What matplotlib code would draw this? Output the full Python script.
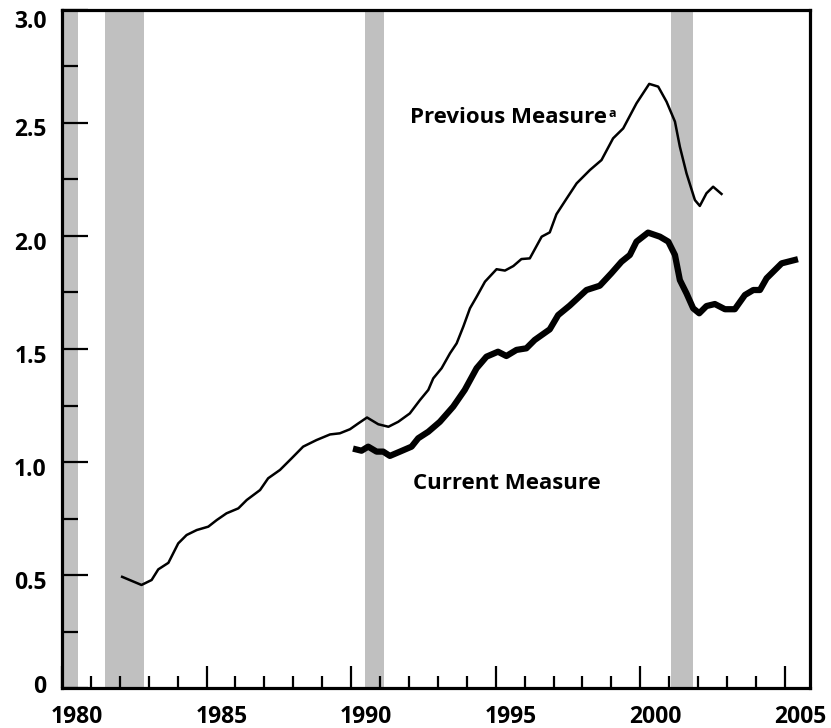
import matplotlib
matplotlib.use("Agg")
import matplotlib.pyplot as plt
from matplotlib.ticker import MultipleLocator, FixedLocator
from matplotlib.transforms import ScaledTranslation

# ── Data ──
prev_years = [1982.08, 1982.75, 1983.1, 1983.33, 1983.68, 1984.02, 1984.31, 1984.66,
              1985.06, 1985.35, 1985.69, 1986.1, 1986.39, 1986.85, 1987.13, 1987.54,
              1987.94, 1988.34, 1988.8, 1989.27, 1989.61, 1989.96, 1990.25, 1990.55,
              1990.94, 1991.29, 1991.63, 1992.03, 1992.38, 1992.67, 1992.84, 1993.13,
              1993.42, 1993.65, 1993.88, 1994.11, 1994.34, 1994.63, 1995.03, 1995.32,
              1995.61, 1995.89, 1996.18, 1996.59, 1996.87, 1997.1, 1997.45, 1997.8,
              1998.26, 1998.66, 1999.06, 1999.41, 1999.87, 2000.31, 2000.62, 2000.91,
              2001.2, 2001.37, 2001.6, 2001.89, 2002.06, 2002.29, 2002.52, 2002.81]
prev_vals = [0.492, 0.456, 0.478, 0.525, 0.554, 0.640, 0.677, 0.699,
             0.714, 0.743, 0.773, 0.795, 0.832, 0.876, 0.928, 0.965,
             1.016, 1.068, 1.097, 1.122, 1.127, 1.145, 1.171, 1.197,
             1.167, 1.156, 1.178, 1.215, 1.274, 1.319, 1.370, 1.415,
             1.481, 1.525, 1.599, 1.680, 1.731, 1.798, 1.853, 1.847,
             1.867, 1.898, 1.901, 1.997, 2.016, 2.096, 2.165, 2.233,
             2.292, 2.336, 2.432, 2.476, 2.587, 2.673, 2.661, 2.594,
             2.506, 2.395, 2.277, 2.159, 2.133, 2.189, 2.218, 2.186]

curr_years = [1990.17, 1990.36, 1990.59, 1990.88, 1991.11, 1991.34, 1991.69, 1992.09,
              1992.32, 1992.67, 1993.07, 1993.53, 1993.93, 1994.34, 1994.68, 1995.08,
              1995.37, 1995.72, 1996.06, 1996.35, 1996.87, 1997.16, 1997.56, 1998.14,
              1998.6, 1999.0, 1999.35, 1999.64, 1999.87, 2000.27, 2000.68, 2000.97,
              2001.2, 2001.37, 2001.6, 2001.83, 2002.04, 2002.29, 2002.58, 2002.93,
              2003.27, 2003.62, 2003.91, 2004.14, 2004.37, 2004.89, 2005.35]
curr_vals = [1.056, 1.050, 1.068, 1.046, 1.046, 1.027, 1.046, 1.068,
             1.105, 1.134, 1.178, 1.245, 1.319, 1.415, 1.466, 1.488,
             1.469, 1.496, 1.503, 1.540, 1.587, 1.650, 1.692, 1.761,
             1.780, 1.835, 1.886, 1.916, 1.975, 2.015, 1.997, 1.975,
             1.916, 1.805, 1.746, 1.680, 1.658, 1.690, 1.699, 1.676,
             1.676, 1.739, 1.761, 1.761, 1.813, 1.879, 1.894]

recessions = [(1980.0, 1980.55), (1981.48, 1982.83), (1990.48, 1991.14), (2001.07, 2001.83)]

x_major = [1980, 1985, 1990, 1995, 2000, 2005]
y_major = [0, 0.5, 1.0, 1.5, 2.0, 2.5, 3.0]
y_labels = ["0", "0.5", "1.0", "1.5", "2.0", "2.5", "3.0"]

plt.rcParams["font.family"] = ["Open Sans", "DejaVu Sans"]
plt.rcParams["font.weight"] = "bold"

fig = plt.figure(figsize=(8.31, 7.28), dpi=100)
ax = fig.add_axes([0.0746, 0.0549, 0.9001, 0.9314])

# recession shading
for start, end in recessions:
    ax.axvspan(start, end, color="#c0c0c0", lw=0, zorder=0)

ax.plot(prev_years, prev_vals, color="black", lw=1.8, solid_joinstyle="round", zorder=3)
ax.plot(curr_years, curr_vals, color="black", lw=4.5, solid_joinstyle="round", zorder=3)

# line labels
t = ax.text(1992.03, 2.50, "Previous Measure", fontsize=16, fontweight="bold",
            ha="left", va="baseline")
ax.annotate("a", xy=(1, 0.5), xycoords=t, xytext=(1, 0), textcoords="offset points",
            fontsize=9, fontweight="bold", ha="left", va="baseline")
ax.text(1992.14, 0.881, "Current Measure", fontsize=16, fontweight="bold",
        ha="left", va="baseline")

ax.set_xlim(1980, 2005.87)
ax.set_ylim(0, 3.0)

ax.xaxis.set_major_locator(FixedLocator(x_major))
ax.xaxis.set_minor_locator(MultipleLocator(1))
ax.yaxis.set_major_locator(FixedLocator(y_major))
ax.yaxis.set_minor_locator(MultipleLocator(0.25))
ax.set_yticklabels(y_labels)

ax.tick_params(axis="x", which="major", direction="in", length=16, width=1.6,
               labelsize=16.5, pad=12.5)
ax.tick_params(axis="x", which="minor", direction="in", length=8.5, width=1.6)
ax.tick_params(axis="y", which="major", direction="in", length=18.5, width=1.6,
               labelsize=16.5, pad=11)
ax.tick_params(axis="y", which="minor", direction="in", length=11.5, width=1.6)
for lbl in ax.get_xticklabels() + ax.get_yticklabels():
    lbl.set_fontweight("bold")

# year labels sit a little right of their ticks, as in the original
for lbl in ax.get_xticklabels():
    lbl.set_transform(lbl.get_transform() + ScaledTranslation(0.15, 0, fig.dpi_scale_trans))
# value labels nudged down slightly (0 up, 3.0 down more)
y_shift = [0.04, -0.05, -0.05, -0.05, -0.05, -0.04, -0.09]
for lbl, dy in zip(ax.get_yticklabels(), y_shift):
    lbl.set_transform(lbl.get_transform() + ScaledTranslation(0, dy, fig.dpi_scale_trans))

for side in ["left", "bottom", "right", "top"]:
    ax.spines[side].set_linewidth(2.3)

fig.savefig("out.png", dpi=100)
